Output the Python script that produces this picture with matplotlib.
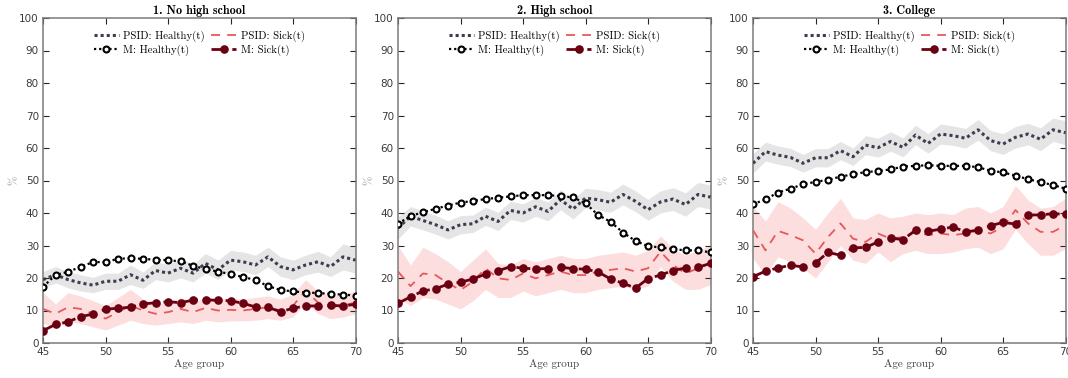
import matplotlib
matplotlib.use("Agg")
import matplotlib.pyplot as plt
import numpy as np

ages = list(range(45, 71))
titles = ["1. No high school", "2. High school", "3. College"]

# Panel 1: No high school
psid_h1 = [19.5, 21.0, 19.5, 18.5, 17.8, 19.0, 19.0, 21.0, 19.3, 22.3, 21.5, 23.0, 21.5, 24.5, 22.5, 25.5, 25.0, 24.0, 26.5, 23.5, 22.5, 24.0, 25.0, 23.5, 26.5, 25.5]
psid_h1_lo = [17.0, 18.5, 17.0, 16.0, 15.5, 16.5, 16.5, 18.0, 16.8, 19.5, 18.8, 20.0, 18.8, 21.5, 19.5, 22.5, 22.0, 21.0, 23.5, 20.5, 19.5, 21.0, 21.8, 20.5, 22.5, 21.5]
psid_h1_hi = [22.0, 23.5, 22.0, 21.0, 20.2, 21.5, 21.5, 24.0, 21.8, 25.0, 24.2, 26.0, 24.2, 27.5, 25.5, 28.5, 28.0, 27.0, 29.5, 26.5, 25.5, 27.0, 28.2, 26.5, 30.5, 29.5]
psid_s1 = [10.5, 9.0, 11.0, 10.5, 9.0, 7.5, 9.5, 11.5, 10.0, 9.0, 9.5, 10.5, 9.5, 10.8, 10.0, 10.2, 10.0, 10.5, 11.0, 10.0, 11.5, 16.0, 12.5, 11.0, 11.5, 12.5]
psid_s1_lo = [6.0, 5.0, 6.5, 6.0, 5.0, 4.0, 5.5, 7.0, 6.0, 5.5, 6.0, 6.5, 6.0, 7.0, 6.5, 6.8, 6.8, 7.0, 7.5, 7.0, 8.0, 12.5, 9.0, 7.5, 8.0, 9.0]
psid_s1_hi = [15.5, 12.0, 15.5, 14.5, 13.0, 11.5, 14.0, 16.5, 13.5, 12.0, 12.5, 14.0, 12.5, 14.0, 13.5, 13.8, 13.5, 14.0, 14.5, 13.5, 15.0, 19.5, 16.0, 14.5, 15.0, 16.0]
m_h1 = [17.3, 20.9, 21.9, 23.4, 24.9, 24.9, 25.9, 26.1, 25.9, 25.6, 25.5, 25.1, 23.8, 22.7, 22.0, 21.2, 20.3, 19.4, 17.5, 16.3, 15.9, 15.5, 15.4, 15.1, 14.9, 14.6]
m_s1 = [3.8, 5.7, 6.5, 8.1, 8.9, 10.4, 10.7, 11.0, 12.0, 12.4, 12.7, 12.4, 13.2, 13.3, 13.1, 13.0, 12.2, 11.1, 11.0, 9.6, 10.7, 11.4, 11.4, 11.6, 11.4, 11.9]

# Panel 2: High school
psid_h2 = [35.4, 39.0, 37.7, 36.4, 34.8, 36.4, 36.7, 39.0, 37.4, 40.8, 40.0, 41.9, 40.5, 44.1, 41.2, 44.6, 44.1, 43.3, 45.7, 43.6, 41.0, 43.4, 44.3, 42.6, 45.7, 44.9]
psid_h2_lo = [32.0, 36.0, 34.8, 33.5, 32.0, 33.6, 34.0, 36.2, 34.6, 38.0, 37.2, 39.0, 37.6, 41.0, 38.2, 41.6, 41.0, 40.2, 42.5, 40.4, 37.8, 40.0, 40.8, 39.0, 42.0, 41.2]
psid_h2_hi = [38.8, 42.0, 40.6, 39.3, 37.6, 39.2, 39.4, 41.8, 40.2, 43.6, 42.8, 44.8, 43.4, 47.2, 44.2, 47.6, 47.2, 46.4, 48.9, 46.8, 44.2, 46.8, 47.8, 46.2, 49.4, 48.6]
psid_s2 = [22.0, 17.5, 21.4, 20.9, 18.4, 16.3, 18.9, 23.0, 19.9, 19.4, 21.4, 19.9, 20.9, 22.0, 20.9, 20.9, 22.0, 22.5, 23.0, 22.0, 23.0, 28.1, 24.0, 21.4, 23.0, 24.5]
psid_s2_lo = [14.0, 11.5, 14.0, 13.5, 12.0, 10.5, 13.0, 16.5, 14.0, 14.0, 16.0, 14.5, 15.5, 16.5, 15.5, 15.5, 16.5, 17.0, 17.5, 16.5, 17.5, 23.5, 19.0, 16.5, 16.5, 18.0]
psid_s2_hi = [30.0, 24.0, 29.5, 27.5, 25.0, 22.0, 25.5, 29.0, 24.5, 24.0, 26.0, 25.0, 26.0, 27.0, 26.0, 26.0, 27.0, 27.5, 28.0, 27.0, 28.5, 33.0, 29.0, 27.0, 28.5, 30.0]
m_h2 = [36.7, 39.1, 40.2, 41.3, 42.3, 43.2, 43.7, 44.3, 44.7, 45.1, 45.5, 45.5, 45.5, 45.2, 44.8, 43.0, 39.4, 37.3, 34.0, 31.4, 29.8, 29.4, 28.9, 28.5, 28.5, 27.9]
m_s2 = [12.2, 14.2, 16.0, 16.7, 18.1, 18.7, 19.7, 21.2, 22.2, 23.5, 23.0, 22.8, 22.9, 23.3, 22.9, 22.7, 21.9, 19.7, 18.4, 16.9, 19.8, 20.9, 22.3, 23.1, 23.3, 24.5]

# Panel 3: College
psid_h3 = [55.3, 58.9, 57.8, 57.1, 55.3, 57.0, 57.0, 59.2, 57.3, 60.9, 60.1, 62.0, 60.2, 64.0, 61.4, 64.3, 63.8, 63.0, 65.6, 62.3, 61.2, 63.3, 64.3, 62.7, 65.6, 64.7]
psid_h3_lo = [52.3, 56.0, 55.0, 54.3, 52.6, 54.2, 54.2, 56.4, 54.6, 58.0, 57.2, 59.0, 57.3, 61.0, 58.4, 61.2, 60.8, 60.0, 62.4, 59.2, 58.0, 60.0, 61.0, 59.2, 62.0, 61.0]
psid_h3_hi = [58.3, 61.8, 60.6, 59.9, 58.0, 59.8, 59.8, 62.0, 60.0, 63.8, 63.0, 65.0, 63.1, 67.0, 64.4, 67.4, 66.8, 66.0, 68.8, 65.4, 64.4, 66.6, 67.6, 66.2, 69.2, 68.4]
psid_s3 = [34.7, 28.5, 34.5, 33.2, 31.6, 27.5, 32.6, 36.8, 32.1, 31.1, 33.7, 32.1, 32.6, 34.2, 33.2, 33.7, 33.2, 33.7, 34.7, 33.7, 35.7, 40.9, 36.8, 34.2, 34.2, 36.2]
psid_s3_lo = [26.0, 21.0, 26.5, 25.0, 23.0, 20.0, 25.0, 30.0, 25.5, 24.5, 28.0, 25.0, 27.5, 28.5, 27.5, 27.5, 28.0, 29.0, 29.5, 27.5, 29.0, 35.0, 30.5, 27.0, 27.0, 29.0]
psid_s3_hi = [42.0, 37.5, 43.5, 41.5, 38.5, 35.0, 40.0, 44.5, 38.5, 38.0, 40.0, 38.5, 39.0, 40.0, 39.5, 40.0, 39.5, 41.5, 42.0, 40.0, 42.0, 48.5, 44.0, 41.5, 42.0, 44.5]
m_h3 = [42.7, 44.2, 46.3, 47.5, 48.8, 49.6, 50.2, 51.2, 51.9, 52.6, 52.9, 53.4, 54.3, 54.5, 54.7, 54.5, 54.5, 54.5, 54.1, 53.0, 52.5, 51.5, 50.4, 49.5, 48.6, 47.5]
m_s3 = [20.4, 22.1, 23.1, 23.9, 23.4, 24.6, 27.9, 27.0, 29.3, 29.4, 31.1, 32.3, 31.8, 34.7, 34.4, 35.0, 35.7, 34.2, 34.7, 36.1, 37.1, 36.6, 39.4, 39.4, 39.8, 39.6]

panels = [
    (psid_h1, psid_h1_lo, psid_h1_hi, psid_s1, psid_s1_lo, psid_s1_hi, m_h1, m_s1),
    (psid_h2, psid_h2_lo, psid_h2_hi, psid_s2, psid_s2_lo, psid_s2_hi, m_h2, m_s2),
    (psid_h3, psid_h3_lo, psid_h3_hi, psid_s3, psid_s3_lo, psid_s3_hi, m_h3, m_s3),
]

C_PH = "#3b3e4e"
C_PS = "#e8575a"
C_MS = "#6b0012"
C_BG = "#e5e5e5"
C_BR = "#fddede"
SPINE_C = "#7a7a7a"
TICK_C = "#262626"
LAB_C = "#3a3a3a"

fig = plt.figure(figsize=(10.68, 3.78), dpi=100)
W, H = 1068.0, 378.0
lefts = [43, 398, 753]
width = 312.5
bottom_px, top_px = 343, 18

for i, (ph, phlo, phhi, ps, pslo, pshi, mh, ms) in enumerate(panels):
    ax = fig.add_axes([lefts[i] / W, 1 - bottom_px / H, width / W, (bottom_px - top_px) / H])
    ax.fill_between(ages, phlo, phhi, color=C_BG, lw=0, zorder=1)
    ax.fill_between(ages, pslo, pshi, color=C_BR, lw=0, zorder=1)
    l1, = ax.plot(ages, ph, ls=(0, (1, 1)), lw=2.2, color=C_PH, zorder=3, label="PSID: Healthy(t)")
    l2, = ax.plot(ages, ps, ls=(0, (5, 4)), lw=1.3, color=C_PS, zorder=3, label="PSID: Sick(t)")
    l3, = ax.plot(ages, mh, ls=(0, (1, 1.3)), lw=1.6, color="black", marker="o", ms=4.3,
                  mfc="white", mec="black", mew=1.5, zorder=4, label="M: Healthy(t)")
    l4, = ax.plot(ages, ms, ls=(0, (5, 2.5)), lw=2.0, color=C_MS, marker="o", ms=5.2,
                  mfc=C_MS, mec=C_MS, zorder=4, label="M: Sick(t)")
    ax.set_xlim(45, 70)
    ax.set_ylim(0, 100)
    ax.set_xticks(range(45, 71, 5))
    ax.set_yticks(range(0, 101, 10))
    ax.tick_params(direction="in", top=True, right=True, length=4, width=0.8,
                   labelsize=7.5, colors=TICK_C, labelcolor=LAB_C, pad=3)
    for sp in ax.spines.values():
        sp.set_color(SPINE_C)
        sp.set_linewidth(1.1)
    for lab in ax.get_xticklabels() + ax.get_yticklabels():
        lab.set_family("DejaVu Sans")
    ax.set_title(titles[i], family="cmb10", fontsize=8.7, color="black", pad=3)
    ax.set_xlabel("Age group", family="cmr10", fontsize=8, color="#404040", labelpad=1)
    ax.set_ylabel("%", family="cmr10", fontsize=8, color="#808080", labelpad=0)
    ax.legend(handles=[l1, l3, l2, l4], ncol=2, loc="upper center",
              bbox_to_anchor=(0.5, 0.99), frameon=False, handlelength=2.3,
              handletextpad=0.4, columnspacing=0.6, labelspacing=0.25,
              prop={"family": "cmr10", "size": 7.8})

fig.savefig("out.png", dpi=100)
